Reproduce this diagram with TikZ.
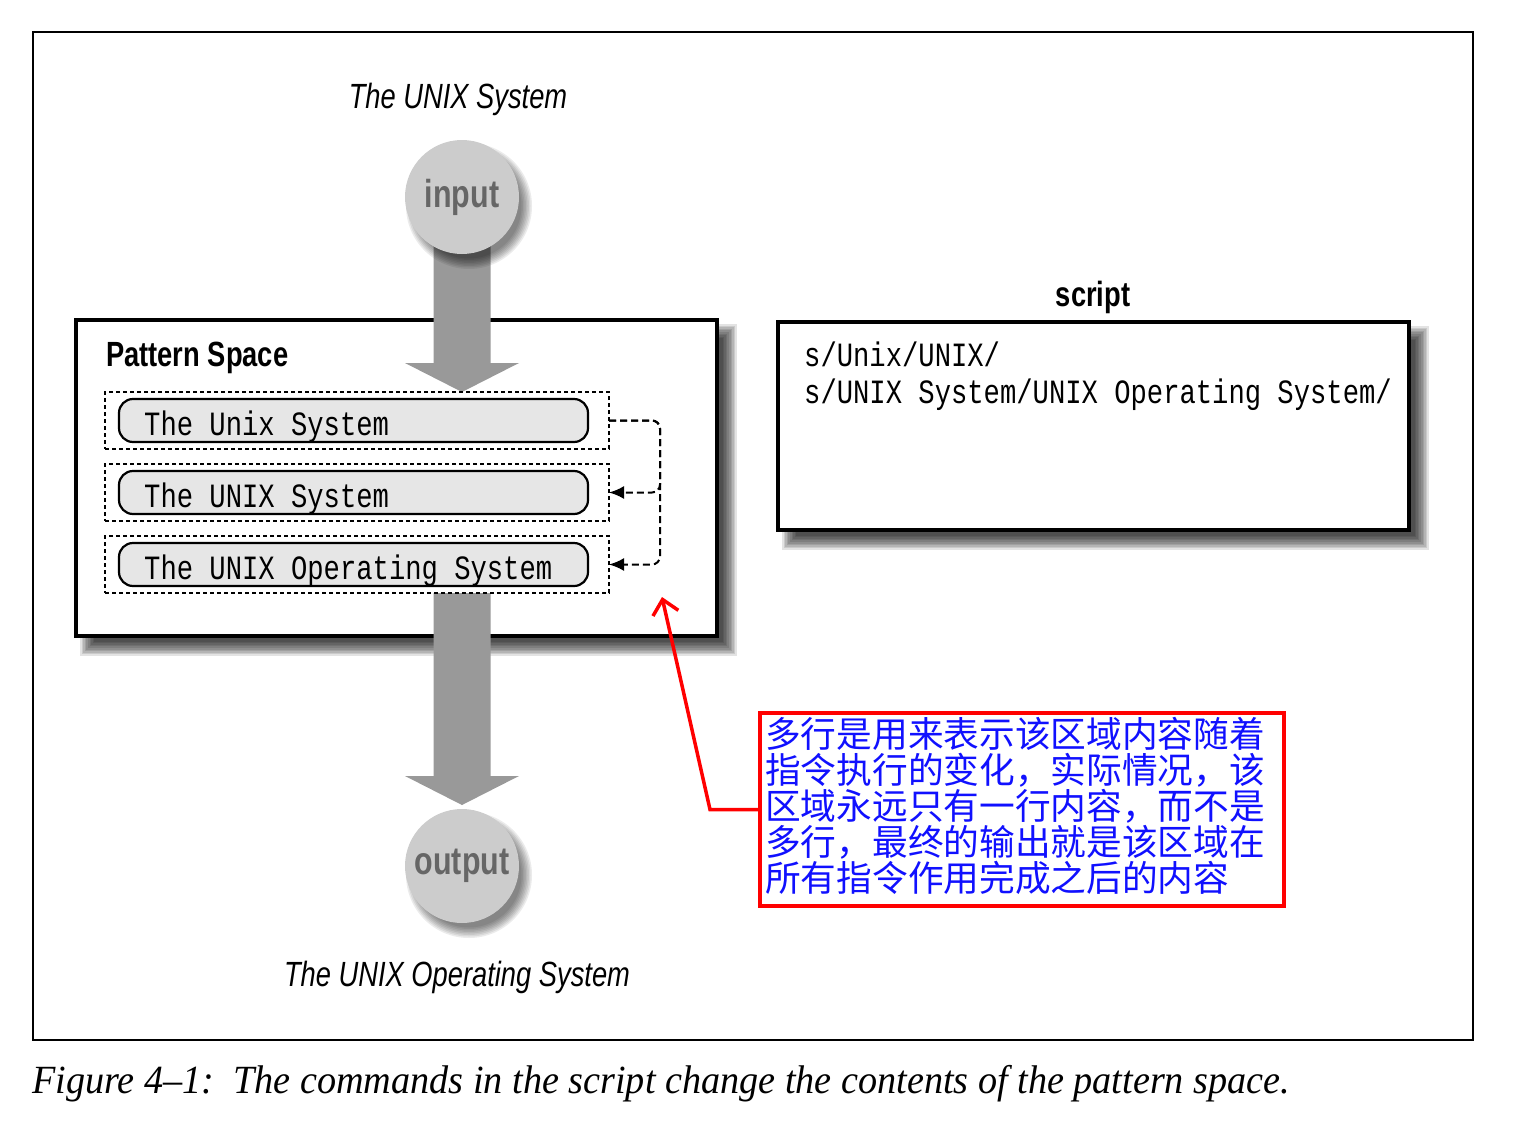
\documentclass[tikz,border=0pt]{standalone}
\usepackage{fontspec}
\setmainfont{Liberation Serif}
\newfontfamily\condsans[FakeStretch=0.78]{Liberation Sans}
\newfontfamily\monof[FakeStretch=0.8]{Liberation Mono}
\newfontfamily\cjk{Noto Sans CJK SC}
\newfontfamily\capfont[FakeStretch=0.955]{Liberation Serif}
\usetikzlibrary{arrows.meta,calc}
\definecolor{arrgray}{HTML}{999999}
\definecolor{circgray}{HTML}{CCCCCC}
\definecolor{txtgray}{HTML}{666666}
\definecolor{pillgray}{HTML}{E6E6E6}
\definecolor{noteblue}{HTML}{1010FF}
\pgfdeclarelayer{shadowl}
\pgfdeclarelayer{boxl}
\pgfdeclarelayer{arrowl}
\pgfsetlayers{shadowl,boxl,arrowl,main}
\begin{document}
\begin{tikzpicture}[x=1pt,y=-1pt,
  bigbox/.style={draw, line width=4, fill=white, inner sep=0, outer sep=0},
  dbox/.style={draw, dash pattern=on 4pt off 3pt, line width=1.8, minimum width=504, minimum height=57, inner sep=0, outer sep=0},
  pill/.style={draw, line width=2.2, fill=pillgray, rounded corners=14, minimum width=469, minimum height=43, inner sep=0, outer sep=0},
  monotxt/.style={font=\monof\fontsize{34}{37}\selectfont, inner sep=0, anchor=base west},
  hdr/.style={font=\condsans\bfseries\fontsize{35}{40}\selectfont, inner sep=0},
  ttl/.style={font=\condsans\itshape\fontsize{35}{40}\selectfont, inner sep=0, anchor=base},
  circ/.style={circle, fill=circgray, minimum size=114, inner sep=0, outer sep=0, text=txtgray, font=\condsans\bfseries\fontsize{39}{42}\selectfont},
  dconn/.style={dash pattern=on 7pt off 4pt, line width=2, rounded corners=8, -{Latex[length=15pt,width=13pt]}},
  flow/.style={fill=arrgray},
  note/.style={draw=red, line width=3.5, minimum width=524, minimum height=193, inner sep=0, outer sep=0},
  callout/.style={draw=red, line width=3.5, -{Straight Barb[length=14pt,width=26pt]}}
]
\useasboundingbox (0,0) rectangle (1534,1124);
% outer frame
\draw[line width=2] (33,32) rectangle (1473,1040);

% boxes
\begin{pgfonlayer}{boxl}
\node[bigbox, minimum width=641, minimum height=316] (ps) at (396.5,478) {};
\node[bigbox, minimum width=631, minimum height=208] (sc) at (1093.5,426) {};
\end{pgfonlayer}

% box shadows
\begin{pgfonlayer}{shadowl}
\foreach \b in {ps,sc}{
  \foreach \i in {0,...,9}{
    \pgfmathsetmacro\e{8-1.6*\i}
    \fill[black,opacity=0.11] ($(\b.north west)+(12-\e,12-\e)$) rectangle ($(\b.south east)+(12+\e,12+\e)$);
  }
}
\end{pgfonlayer}

\node[hdr, anchor=base west] (pst) at (106,366) {Pattern Space};
\node[hdr, anchor=base] (sct) at (1093,306) {script};

% pattern space lines
\node[dbox] (d1) at (357,420.5) {};
\node[dbox] (d2) at (357,492.5) {};
\node[dbox] (d3) at (357,564.5) {};
\node[pill] (p1) at (353.5,420.5) {};
\node[pill] (p2) at (353.5,492.5) {};
\node[pill] (p3) at (353.5,564.5) {};
\node[monotxt] (t1) at (144,435) {The Unix System};
\node[monotxt] (t2) at (144,507) {The UNIX System};
\node[monotxt] (t3) at (144,579) {The UNIX Operating System};

\draw[dconn] (d1.east) -- ++(51,0) |- (d2.east);
\draw[dconn] (d1.east) -- ++(51,0) |- (d3.east);

% script text
\node[monotxt] (s1) at (804,366) {s/Unix/UNIX/};
\node[monotxt] (s2) at (804,403) {s/UNIX System/UNIX Operating System/};

% input / output circles with shadows
\coordinate (ic) at (462,197);
\coordinate (oc) at (462,866);
\foreach \i in {0,...,7}{
  \pgfmathsetmacro\e{6-1.5*\i}
  \fill[black,opacity=0.08] ($(ic)+(7,9)$) circle[radius={57+\e}];
  \fill[black,opacity=0.08] ($(oc)+(7,9)$) circle[radius={57+\e}];
}
\node[circ] (inp) at (ic) {input};
\node[circ] (outp) at (oc) {output};

% flow arrows
\coordinate (intip) at (inp.center |- d1.north);
\coordinate (outtop) at (outp.center |- d3.south);
\coordinate (outtip) at ($(outp.north)+(0,-4)$);
\begin{pgfonlayer}{arrowl}
\fill[flow] ($(inp.center)+(-28.5,0)$) -- ($(intip)+(-28.5,-29)$) -- ($(intip)+(-57,-29)$) -- (intip)
  -- ($(intip)+(57,-29)$) -- ($(intip)+(28.5,-29)$) -- ($(inp.center)+(28.5,0)$) -- cycle;
\fill[flow] ($(outtop)+(-28.5,0)$) -- ($(outtip)+(-28.5,-29)$) -- ($(outtip)+(-57,-29)$) -- (outtip)
  -- ($(outtip)+(57,-29)$) -- ($(outtip)+(28.5,-29)$) -- ($(outtop)+(28.5,0)$) -- cycle;
\end{pgfonlayer}

\node[ttl] (ttop) at (458,108) {The UNIX System};
\node[ttl] (tbot) at (457,986) {The UNIX Operating System};

% note
\node[note] (cb) at (1022,809.5) {};
\node[anchor=north west, inner sep=0, align=left, text=noteblue, font=\cjk\fontsize{35.7}{36}\selectfont] (cbt) at (765,717)
 {多行是用来表示该区域内容随着\\指令执行的变化，实际情况，该\\区域永远只有一行内容，而不是\\多行，最终的输出就是该区域在\\所有指令作用完成之后的内容};
\coordinate (tip) at (662,597);
\draw[callout] (cb.west) -- (710,809.5) -- (tip);

% caption
\node[anchor=base west, inner sep=0, font=\capfont\itshape\fontsize{40}{44}\selectfont] (cap) at (32,1093)
 {Figure 4–1:\ \ The commands in the script change the contents of the pattern space.};
\end{tikzpicture}
\end{document}
